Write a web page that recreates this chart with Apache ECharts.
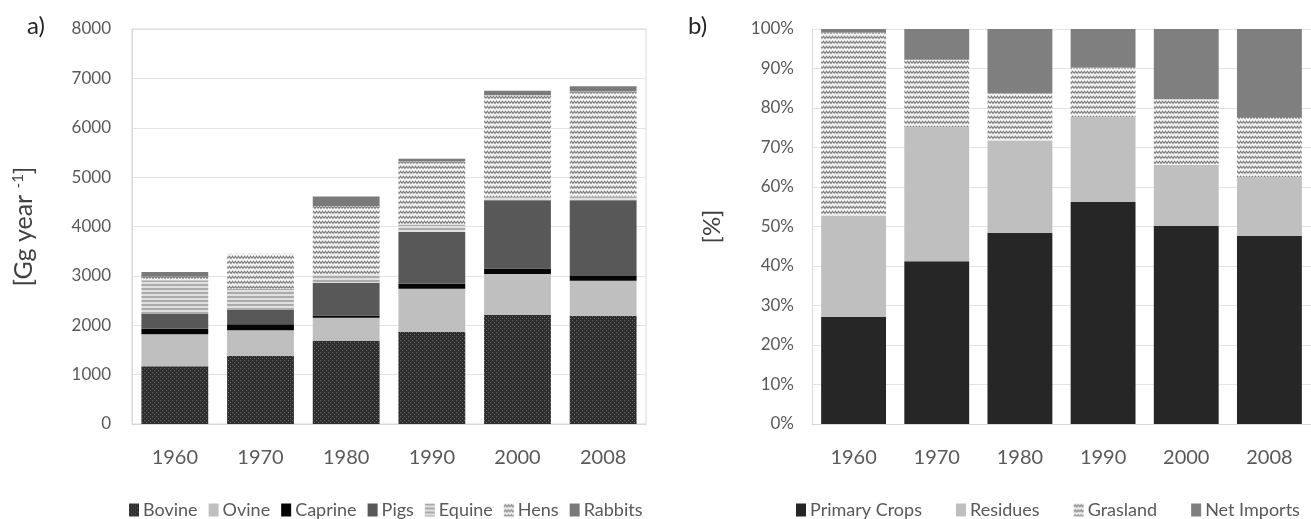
<!DOCTYPE html>
<html>
<head>
<meta charset="utf-8">
<script src="https://cdn.jsdelivr.net/npm/echarts@6/dist/echarts.min.js"></script>
<style>
  html, body { margin: 0; padding: 0; background: #fff; }
  #chart { width: 1311px; height: 519px; }
</style>
</head>
<body>
<div id="chart"></div>
<script>
// Years shown on both panels
const years = ['1960', '1970', '1980', '1990', '2000', '2008'];

// Panel a) livestock feed demand by animal group [Gg year-1]
const bovine  = [1170, 1375, 1680, 1870, 2210, 2190];
const ovine   = [650, 525, 470, 870, 830, 710];
const caprine = [110, 120, 50, 100, 110, 100];
const pigs    = [310, 300, 660, 1050, 1380, 1530];
const equine  = [670, 420, 170, 150, 60, 80];
const hens    = [70, 710, 1380, 1280, 2070, 2130];
const rabbits = [100, 0, 200, 50, 90, 100];

// Panel b) share of feed supply by source [%]
const primaryCrops = [27.1, 41.2, 48.4, 56.2, 50.1, 47.6];
const residues     = [25.6, 33.9, 23.4, 21.5, 15.5, 14.9];
const grasland     = [46.5, 17.1, 11.9, 12.6, 16.6, 15.2];
const netImports   = [0.8, 7.8, 16.3, 9.7, 17.8, 22.3];

const yTicksA = { min: 0, max: 8000, interval: 1000 };
const yTicksB = { min: 0, max: 100, interval: 10 };

// Small tiled textures used as fills
function pattern(w, h, draw) {
  const c = document.createElement('canvas');
  c.width = w; c.height = h;
  draw(c.getContext('2d'));
  return { image: c, repeat: 'repeat' };
}
const dotted = pattern(4, 4, g => {
  g.fillStyle = '#2e2e2e'; g.fillRect(0, 0, 4, 4);
  g.fillStyle = '#6e6e6e'; g.fillRect(0, 0, 1, 1); g.fillRect(2, 2, 1, 1);
});
const striped = pattern(2, 4, g => {
  g.fillStyle = '#ababab'; g.fillRect(0, 0, 2, 2);
  g.fillStyle = '#e0e0e0'; g.fillRect(0, 2, 2, 2);
});
function zigzag() {
  return pattern(6, 5, g => {
    g.fillStyle = '#f4f4f4'; g.fillRect(0, 0, 6, 5);
    g.strokeStyle = '#7a7a7a'; g.lineWidth = 1.1;
    g.beginPath();
    g.moveTo(0, 3.5); g.lineTo(1.5, 1.2); g.lineTo(3, 3.5); g.lineTo(4.5, 1.2); g.lineTo(6, 3.5);
    g.stroke();
  });
}

const FONT = 'Lato, "Open Sans", "Noto Sans", sans-serif';
const TXT = '#595959';

function barSeries(name, data, color, axis) {
  return {
    name, type: 'bar', stack: 's' + axis, data,
    xAxisIndex: axis, yAxisIndex: axis,
    barCategoryGap: '22%',
    itemStyle: { color },
    emphasis: { disabled: true }
  };
}

const legendText = { color: TXT, fontSize: 18, fontFamily: FONT, padding: [0, 0, 0, -1] };
const panelLabel = { fontSize: 24, fontFamily: FONT, fill: '#262626' };

const chart = echarts.init(document.getElementById('chart'), null, { renderer: 'canvas' });

chart.setOption({
  animation: false,
  backgroundColor: '#fff',
  textStyle: { fontFamily: FONT },
  graphic: [
    { type: 'text', left: 27, top: 14, style: Object.assign({ text: 'a)' }, panelLabel) },
    { type: 'text', left: 688, top: 14, style: Object.assign({ text: 'b)' }, panelLabel) }
  ],
  grid: [
    { left: 132, right: 665, top: 29, bottom: 95, show: true, borderColor: '#d9d9d9', borderWidth: 1 },
    { left: 812, right: -11, top: 29, bottom: 95 }
  ],
  legend: [
    {
      left: 124, top: 496, icon: 'rect', itemWidth: 10, itemHeight: 13, itemGap: 11,
      textStyle: legendText,
      data: ['Bovine', 'Ovine', 'Caprine', 'Pigs', 'Equine', 'Hens', 'Rabbits']
    },
    {
      left: 791, top: 496, icon: 'rect', itemWidth: 10, itemHeight: 13, itemGap: 34,
      textStyle: legendText,
      data: ['Primary Crops', 'Residues', 'Grasland', 'Net Imports']
    }
  ],
  xAxis: [0, 1].map(i => ({
    type: 'category', gridIndex: i, data: years,
    axisLine: { lineStyle: { color: '#d9d9d9' } },
    axisTick: { show: false },
    axisLabel: { color: TXT, fontSize: 20, margin: 24, fontFamily: FONT }
  })),
  yAxis: [
    {
      type: 'value', gridIndex: 0, ...yTicksA,
      name: '{a|[Gg year }{b|-1}{a|]}', nameLocation: 'middle', nameGap: 96, nameRotate: 90,
      nameTextStyle: { rich: { a: { fontSize: 25, color: '#404040', fontFamily: FONT }, b: { fontSize: 15, color: '#404040', verticalAlign: 'top', fontFamily: FONT, padding: [0, 0, 10, 0] } } },
      axisLine: { show: true, lineStyle: { color: '#d9d9d9' } },
      splitLine: { lineStyle: { color: '#e3e3e3' } },
      axisLabel: { color: TXT, fontSize: 17, margin: 21, fontFamily: FONT, formatter: v => String(v) }
    },
    {
      type: 'value', gridIndex: 1, ...yTicksB,
      name: '[%]', nameLocation: 'middle', nameGap: 88, nameRotate: 90,
      nameTextStyle: { fontSize: 24, color: '#404040', fontFamily: FONT },
      axisLine: { show: true, lineStyle: { color: '#d9d9d9' } },
      splitLine: { lineStyle: { color: '#e3e3e3' } },
      axisLabel: { color: TXT, fontSize: 17, margin: 18, fontFamily: FONT, formatter: '{value}%' }
    }
  ],
  series: [
    barSeries('Bovine', bovine, dotted, 0),
    barSeries('Ovine', ovine, '#bfbfbf', 0),
    barSeries('Caprine', caprine, '#050505', 0),
    barSeries('Pigs', pigs, '#585858', 0),
    barSeries('Equine', equine, striped, 0),
    barSeries('Hens', hens, zigzag(), 0),
    barSeries('Rabbits', rabbits, '#7a7a7a', 0),
    barSeries('Primary Crops', primaryCrops, '#262626', 1),
    barSeries('Residues', residues, '#bfbfbf', 1),
    barSeries('Grasland', grasland, zigzag(), 1),
    barSeries('Net Imports', netImports, '#7f7f7f', 1)
  ]
});
</script>
</body>
</html>
